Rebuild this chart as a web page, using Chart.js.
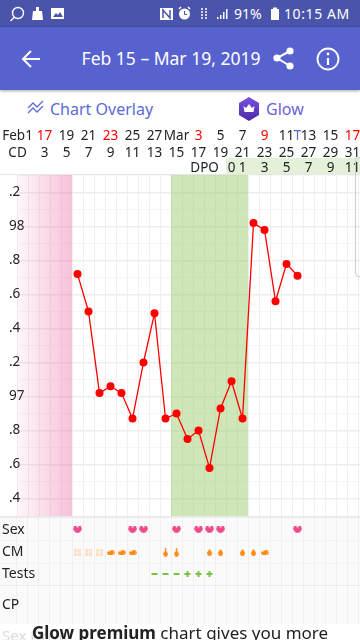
<!DOCTYPE html>
<html>
<head>
<meta charset="utf-8">
<title>Glow chart</title>
<script src="https://cdn.jsdelivr.net/npm/chart.js@4/dist/chart.umd.min.js"></script>
<style>
  html, body { margin: 0; padding: 0; background: #fff; }
  body { position: relative; width: 360px; height: 640px; overflow: hidden; font-family: "Noto Sans", sans-serif; }
  .abs { position: absolute; white-space: nowrap; }
  #statusBar { left: 0; top: 0; width: 360px; height: 27px; background: #4a54ab; }
  #appBar { left: 0; top: 27px; width: 360px; height: 63px; background: #5762cf; box-shadow: 0 1px 3px rgba(0,0,0,.35); }
  #dpoStrip { left: 226px; top: 158px; width: 134px; height: 16px; background: #e4f0d8; }
  #topLine { left: 0; top: 174px; width: 360px; height: 1px; background: #e6e6e6; }
  #bottomLine { left: 0; top: 516px; width: 360px; height: 2px; background: #ebebeb; }
  #scrollEdge { left: 355px; top: 157px; width: 12px; height: 118px; border: 1px solid #ccc; border-radius: 4px; }
  #mainChart, #rowsChart { position: absolute; left: 0; }
  #mainChart { top: 127px; }
  #rowsChart { top: 517px; background: #fafafa; }
  #promo { left: 0; top: 623px; width: 360px; text-align: center; font-size: 17px; line-height: 20px; color: #222; }
  #faded { left: 2px; top: 625px; font-size: 15px; color: #ddd; }
</style>
</head>
<body>

<div class="abs" id="statusBar"></div>
<div class="abs" id="appBar"></div>

<svg class="abs" style="left:0;top:0" width="360" height="128" xmlns="http://www.w3.org/2000/svg">
  <!-- status bar -->
  <g fill="none" stroke="#fff" stroke-width="1.4">
    <circle cx="18" cy="13" r="5.5"/>
    <path d="M14 17.5l-3.5 3.5"/>
  </g>
  <path d="M36 7h3v4h3l1 9H32l1-9h3z" fill="#fff"/>
  <rect x="51" y="8" width="13" height="11" fill="#fff"/>
  <path d="M53 17l3-4 2 2 2-3 3 5z" fill="#4a54ab"/>
  <rect x="160" y="8" width="13" height="12" fill="#fff"/>
  <path d="M163 18v-8l7 8v-8" fill="none" stroke="#4a54ab" stroke-width="1.5"/>
  <circle cx="184.500" cy="14" r="5.5" fill="#fff"/>
  <path d="M179 9l2-2M190 9l-2-2" stroke="#fff" stroke-width="1.5"/>
  <path d="M184.500 11v3.500h2.500" fill="none" stroke="#4a54ab" stroke-width="1"/>
  <path d="M202 8v11M206 8v11" stroke="#fff" stroke-width="1.500" stroke-dasharray="2 1"/>
  <path d="M217 19h1.500v-2H217zM220 19h1.500v-4H220zM223 19h1.500v-7H223zM226 19h1.500V9H226z" fill="#fff"/>
  <rect x="271" y="9" width="8" height="11" fill="#fff"/>
  <rect x="273" y="7.500" width="4" height="2" fill="#fff"/>
  <text x="234" y="19" font-size="14" fill="#fff" font-family="Noto Sans">91%</text>
  <text x="284" y="19" font-size="14" fill="#fff" font-family="Noto Sans" letter-spacing=".6">10:15 AM</text>

  <!-- app bar -->
  <path d="M24 59h16M31 51l-8 8 8 8" fill="none" stroke="#fff" stroke-width="2"/>
  <text x="171" y="65" font-size="17.500" fill="#fff" text-anchor="middle" font-family="Noto Sans">Feb 15 – Mar 19, 2019</text>
  <g fill="#fff">
    <circle cx="277" cy="58" r="3.600"/>
    <circle cx="290" cy="51" r="3.600"/>
    <circle cx="290" cy="66" r="3.600"/>
  </g>
  <path d="M290 51l-13 7 13 8" fill="none" stroke="#fff" stroke-width="2"/>
  <circle cx="328" cy="59" r="10.500" fill="none" stroke="#fff" stroke-width="1.800"/>
  <path d="M328 58v7" stroke="#fff" stroke-width="2.200"/>
  <circle cx="328" cy="54" r="1.400" fill="#fff"/>

  <!-- sub header -->
  <path d="M28 108l5-5 4 4 6-6M28 113l5-5 4 4 6-6" fill="none" stroke="#5b6bd5" stroke-width="1.300"/>
  <text x="50" y="115" font-size="16" fill="#5b6bd5" font-family="Noto Sans">Chart Overlay</text>
  <defs>
    <linearGradient id="hex" x1="0" y1="0" x2="0" y2="1">
      <stop offset="0" stop-color="#7a4fe0"/>
      <stop offset="1" stop-color="#4a2aa8"/>
    </linearGradient>
  </defs>
  <path d="M249 97l10 6v12l-10 6-10-6v-12z" fill="url(#hex)"/>
  <path d="M243.500 106l2.500 2 3-4 3 4 2.500-2-1 6h-9z" fill="#fff"/>
  <text x="266" y="115" font-size="16" fill="#6a63d8" font-family="Noto Sans">Glow</text>
</svg>

<div class="abs" id="dpoStrip"></div>
<div class="abs" id="topLine"></div>

<canvas id="mainChart" width="360" height="389"></canvas>
<canvas id="rowsChart" width="360" height="107"></canvas>

<div class="abs" id="bottomLine"></div>
<div class="abs" id="scrollEdge"></div>

<div class="abs" id="faded">Sex Drive</div>
<div class="abs" id="promo"><b>Glow premium</b> chart gives you more</div>

<script>
/* ================= DATA ================= */
const cycleDays = [6, 7, 8, 9, 10, 11, 12, 13, 14, 15, 16, 17, 18, 19, 20, 21, 22, 23, 24, 25, 26];
const temps = [97.72, 97.50, 97.02, 97.06, 97.02, 96.87, 97.20, 97.49, 96.87, 96.90, 96.75,
  96.80, 96.58, 96.93, 97.09, 96.87, 98.02, 97.98, 97.56, 97.78, 97.71];

const periodRange = [0.5, 5.5];
const fertileRange = [14.5, 21.5];

const dateDays = [0.55, 3, 5, 7, 9, 11, 13, 15, 17, 19, 21, 23, 25, 26, 27, 29, 31];
const dateLabels = ["Feb1", "17", "19", "21", "23", "25", "27", "Mar", "3", "5", "7", "9", "11", "T", "13", "15", "17"];
const dateColors = ["#222", "#f00", "#222", "#222", "#f00", "#222", "#222", "#222", "#f00", "#222", "#222", "#f00", "#222", "#5b6bd5", "#222", "#222", "#f00"];

const cdDays = [0.55, 3, 5, 7, 9, 11, 13, 15, 17, 19, 21, 23, 25, 27, 29, 31];
const cdLabels = ["CD", "3", "5", "7", "9", "11", "13", "15", "17", "19", "21", "23", "25", "27", "29", "31"];

const dpoDays = [17.55, 20, 21, 23, 25, 27, 29, 31];
const dpoLabels = ["DPO", "0", "1", "3", "5", "7", "9", "11"];

const rowNames = ["Sex", "CM", "Tests", "CP"];
const rowValues = [1, 2, 3, 4.41];
const rowLines = [1.5, 2.5, 3.5];

const sexDays = [6, 11, 12, 15, 17, 18, 19, 26];
const stickyDays = [6, 7, 8];
const creamyDays = [9, 10, 11, 23];
const eggWhiteDays = [14, 15];
const wateryDays = [18, 19, 21, 22];
const testNegDays = [13, 14, 15];
const testPosDays = [16, 17, 18];

const tempMin = 96.297;
const tempMax = 98.303;

/* ================= SHARED ================= */
function halfDayTicks(scale) {
  const out = [];
  for (let d = 0.5; d <= 32; d++) {
    if (d >= scale.min && d <= scale.max) out.push({ value: d });
  }
  scale.ticks = out;
}

// chart.js reserves room for the outer labels, this chart has to keep its own pixel grid
function noScalePadding(scale) {
  scale.paddingTop = 0;
  scale.paddingBottom = 0;
  scale.paddingLeft = 0;
  scale.paddingRight = 0;
}

function headerAxis(days, labels, colors, weight, nudge) {
  return {
    type: "linear",
    position: "top",
    weight: weight,
    min: 0.5,
    max: 31.68,
    border: { display: false },
    grid: { display: false, drawTicks: false },
    afterBuildTicks: scale => { scale.ticks = days.map(d => ({ value: d })); },
    afterFit: scale => { scale.height = 16; noScalePadding(scale); },
    ticks: {
      autoSkip: false,
      maxRotation: 0,
      padding: nudge,
      font: { size: 13.5, family: "Noto Sans" },
      color: c => colors ? colors[c.index] : "#222",
      callback: (v, i) => labels[i]
    }
  };
}

/* ================= MAIN CHART ================= */
const pinkFill = c => {
  const chart = c.chart;
  if (!chart.chartArea) return "rgba(236,100,160,.4)";
  const x = chart.scales.x;
  const g = chart.ctx.createLinearGradient(x.getPixelForValue(periodRange[0]), 0, x.getPixelForValue(periodRange[1]), 0);
  g.addColorStop(0, "rgba(236,100,160,.05)");
  g.addColorStop(1, "rgba(236,100,160,.4)");
  return g;
};

new Chart(document.getElementById("mainChart"), {
  type: "line",
  data: {
    datasets: [
      {
        data: cycleDays.map((d, i) => ({ x: d, y: temps[i] })),
        borderColor: "#f00",
        backgroundColor: "#f00",
        borderWidth: 1.3,
        pointRadius: 4,
        pointBorderWidth: 0,
        tension: 0,
        order: 1
      },
      {
        data: periodRange.map(d => ({ x: d, y: tempMax })),
        borderWidth: 0,
        pointRadius: 0,
        fill: "start",
        backgroundColor: pinkFill,
        order: 2
      },
      {
        data: fertileRange.map(d => ({ x: d, y: tempMax })),
        borderWidth: 0,
        pointRadius: 0,
        fill: "start",
        backgroundColor: "rgba(148,199,97,.45)",
        order: 2
      }
    ]
  },
  options: {
    responsive: false,
    animation: false,
    layout: { autoPadding: false, padding: { left: 9 } },
    plugins: { legend: { display: false }, tooltip: { enabled: false } },
    scales: {
      xDate: headerAxis(dateDays, dateLabels, dateColors, 2, -1),
      xCd: headerAxis(cdDays, cdLabels, null, 1, -2),
      xDpo: headerAxis(dpoDays, dpoLabels, null, 0, -1),
      x: {
        type: "linear",
        position: "bottom",
        min: 0.5,
        max: 31.68,
        border: { display: false },
        afterBuildTicks: halfDayTicks,
        afterFit: scale => { scale.height = 0; noScalePadding(scale); },
        grid: { color: "#efefef", lineWidth: 1, drawTicks: false },
        ticks: { display: false }
      },
      y: {
        min: tempMin,
        max: tempMax,
        border: { display: false },
        afterBuildTicks: scale => {
          const out = [];
          for (let t = 964; t <= 983; t++) out.push({ value: t / 10 });
          scale.ticks = out;
        },
        afterFit: scale => { scale.width = 8; noScalePadding(scale); },
        grid: {
          drawTicks: false,
          color: c => Math.round(c.tick.value * 10) % 2 === 0 ? "#eeeeee" : "#f6f6f6",
          lineWidth: c => Math.round(c.tick.value * 10) % 2 === 0 ? 1.5 : 1
        },
        ticks: {
          autoSkip: false,
          mirror: true,
          padding: -8,
          color: "#222",
          font: { size: 13.5, family: "Noto Sans" },
          callback: v => {
            const tenth = Math.round(v * 10);
            if (tenth % 2 !== 0) return "";
            if (tenth % 10 === 0) return String(tenth / 10);
            return "." + (tenth % 10);
          }
        }
      }
    }
  }
});

/* ================= ROW ICONS ================= */
function icon(w, h, draw) {
  const c = document.createElement("canvas");
  c.width = w;
  c.height = h;
  draw(c.getContext("2d"));
  return c;
}

const heartIcon = icon(9, 7, g => {
  g.fillStyle = "#ee4a8c";
  g.beginPath();
  g.moveTo(4.5, 7);
  g.bezierCurveTo(0, 4.5, 0, 2.5, 0.3, 1.4);
  g.bezierCurveTo(1, -0.4, 3.5, -0.4, 4.5, 1.5);
  g.bezierCurveTo(5.5, -0.4, 8, -0.4, 8.7, 1.4);
  g.bezierCurveTo(9, 2.5, 9, 4.5, 4.5, 7);
  g.fill();
});

const stickyIcon = icon(7, 7, g => {
  g.strokeStyle = "#ffc98f";
  g.lineWidth = 1;
  [[1.5, 1.5], [5.5, 1.5], [1.5, 5.5], [5.5, 5.5]].forEach(p => {
    g.beginPath();
    g.arc(p[0], p[1], 1.2, 0, Math.PI * 2);
    g.stroke();
  });
});

const creamyIcon = icon(8, 5, g => {
  g.fillStyle = "#ff8a14";
  g.beginPath();
  g.ellipse(4, 3.2, 4, 1.8, 0, 0, Math.PI * 2);
  g.fill();
  g.beginPath();
  g.ellipse(5.5, 1.5, 1.8, 1.5, 0, 0, Math.PI * 2);
  g.fill();
});

const wateryIcon = icon(5, 7, g => {
  g.fillStyle = "#ff8a14";
  g.beginPath();
  g.moveTo(2.5, 0);
  g.bezierCurveTo(3, 2, 5, 3, 5, 4.5);
  g.arc(2.5, 4.5, 2.5, 0, Math.PI);
  g.bezierCurveTo(0, 3, 2, 2, 2.5, 0);
  g.fill();
});

const eggWhiteIcon = icon(5, 9, g => {
  g.fillStyle = "#ff8a14";
  g.fillRect(1.8, 0, 1.4, 6);
  g.beginPath();
  g.arc(2.5, 6.5, 2.4, 0, Math.PI * 2);
  g.fill();
});

function rowData(days, row) {
  return days.map(d => ({ x: d, y: rowValues[row] }));
}

/* ================= ROWS CHART ================= */
new Chart(document.getElementById("rowsChart"), {
  type: "scatter",
  data: {
    datasets: [
      { data: rowData(sexDays, 0), pointStyle: heartIcon },
      { data: rowData(stickyDays, 1), pointStyle: stickyIcon },
      { data: rowData(creamyDays, 1), pointStyle: creamyIcon },
      { data: rowData(eggWhiteDays, 1), pointStyle: eggWhiteIcon },
      { data: rowData(wateryDays, 1), pointStyle: wateryIcon },
      { data: rowData(testNegDays, 2), pointStyle: "line", pointRadius: 3, borderColor: "#7cc242", pointBorderWidth: 2 },
      { data: rowData(testPosDays, 2), pointStyle: "cross", pointRadius: 3, borderColor: "#7cc242", pointBorderWidth: 2 }
    ]
  },
  options: {
    responsive: false,
    animation: false,
    layout: { autoPadding: false },
    plugins: { legend: { display: false }, tooltip: { enabled: false } },
    scales: {
      x: {
        type: "linear",
        min: -1.045,
        max: 31.68,
        border: { display: false },
        afterBuildTicks: halfDayTicks,
        afterFit: scale => { scale.height = 0; noScalePadding(scale); },
        grid: { color: "#f0f0f0", drawTicks: false },
        ticks: { display: false }
      },
      y: {
        reverse: true,
        min: 0.41,
        max: 5.27,
        border: { display: false },
        afterBuildTicks: scale => {
          scale.ticks = rowValues.concat(rowLines).map(v => ({ value: v }));
        },
        afterFit: scale => { scale.width = 0; noScalePadding(scale); },
        grid: {
          drawTicks: false,
          lineWidth: 1,
          color: c => rowLines.includes(c.tick.value) ? (c.tick.value === 3.5 ? "#ececec" : "#f3f3f3") : "rgba(0,0,0,0)"
        },
        ticks: {
          autoSkip: false,
          mirror: true,
          padding: 2,
          color: "#222",
          font: { size: 14, family: "Noto Sans" },
          callback: v => {
            const i = rowValues.indexOf(v);
            return i >= 0 ? rowNames[i] : "";
          }
        }
      }
    }
  }
});
</script>
</body>
</html>
